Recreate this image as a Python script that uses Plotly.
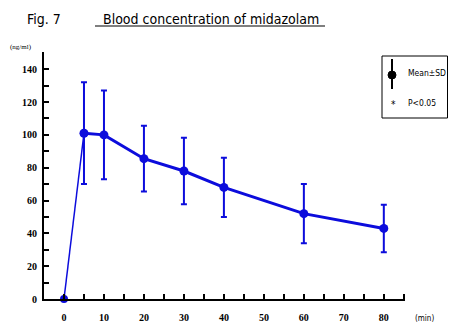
import plotly.graph_objects as go

# ---- data ----
time_min = [0, 5, 10, 20, 30, 40, 60, 80]
mean_conc = [0, 101, 100, 85.5, 78, 68, 52, 43]
sd_conc = [0, 31, 27, 20, 20.3, 18, 18, 14.5]
x_tick_vals = [0, 10, 20, 30, 40, 50, 60, 70, 80]
y_tick_vals = [0, 20, 40, 60, 80, 100, 120, 140]

BLUE = "#0c0cdc"
VW, VH = 457, 322          # browser viewport
OFF = 8                    # default body margin of the html page
W, H = VW - OFF, VH - OFF  # figure size so it fits in the viewport
# plot area in viewport pixels
PX0, PX1, PY0, PY1 = 44, 405, 52, 299
L, R = PX0 - OFF, W - (PX1 - OFF)
T, B = PY0 - OFF, H - (PY1 - OFF)
PW, PH = PX1 - PX0, PY1 - PY0


def px(x):
    return (x - PX0) / PW


def py(y):
    return (PY1 - y) / PH


COND = "Liberation Sans Narrow, DejaVu Sans Condensed, Arial Narrow, sans-serif"
SERIF = "Liberation Serif, Times New Roman, serif"

fig = go.Figure()
# first thin rising segment
fig.add_trace(go.Scatter(
    x=time_min[:2], y=mean_conc[:2], mode="lines+markers",
    line=dict(color=BLUE, width=1.5), marker=dict(color=BLUE, size=8),
    cliponaxis=False, showlegend=False, hoverinfo="skip"))
# main curve with SD error bars
fig.add_trace(go.Scatter(
    x=time_min[1:], y=mean_conc[1:], mode="lines+markers",
    line=dict(color=BLUE, width=3), marker=dict(color=BLUE, size=9),
    error_y=dict(type="data", array=sd_conc[1:], visible=True,
                 color=BLUE, thickness=2, width=3),
    cliponaxis=False, showlegend=False))

axis_common = dict(
    showline=True, linecolor="black", linewidth=2, showgrid=False,
    zeroline=False, ticks="inside", ticklen=5, tickwidth=1.5, tickcolor="black",
    automargin=False,
    tickfont=dict(family=SERIF, size=10, color="black", weight="bold"),
)
fig.update_xaxes(range=[-5, 85.3], tickvals=x_tick_vals,
                 minor=dict(dtick=5, tick0=0, ticks="inside", ticklen=5,
                            tickwidth=1.5, tickcolor="black"),
                 ticklabelstandoff=8, **axis_common)
fig.update_yaxes(range=[0, 150.5], tickvals=y_tick_vals,
                 minor=dict(dtick=10, tick0=0, ticks="inside", ticklen=5,
                            tickwidth=1.5, tickcolor="black"),
                 ticklabelstandoff=3, **axis_common)

shapes = [
    # title underline
    dict(type="line", xref="paper", yref="paper", x0=px(95), x1=px(325),
         y0=py(26), y1=py(26), line=dict(color="black", width=1.2)),
    # legend box
    dict(type="rect", xref="paper", yref="paper", x0=px(382), x1=px(447.5),
         y0=py(56), y1=py(118), line=dict(color="black", width=1),
         fillcolor="white"),
    # legend error-bar symbol
    dict(type="line", xref="paper", yref="paper", x0=px(392), x1=px(392),
         y0=py(59), y1=py(89), line=dict(color="black", width=2)),
    dict(type="circle", xref="paper", yref="paper", x0=px(388), x1=px(396),
         y0=py(71), y1=py(79), line=dict(color="black", width=1),
         fillcolor="black"),
]

annotations = [
    dict(text="Fig. 7", x=px(25), y=py(19), xref="paper", yref="paper",
         xanchor="left", yanchor="middle", showarrow=False,
         font=dict(family=COND, size=14, color="black")),
    dict(text="Blood concentration of midazolam", x=px(101), y=py(19),
         xref="paper", yref="paper", xanchor="left", yanchor="middle",
         showarrow=False, font=dict(family=COND, size=14, color="black")),
    dict(text="(ng/ml)", x=px(8), y=py(47), xref="paper", yref="paper",
         xanchor="left", yanchor="middle", showarrow=False,
         font=dict(family=SERIF, size=7, color="black")),
    dict(text="(min)", x=px(413), y=py(318), xref="paper", yref="paper",
         xanchor="left", yanchor="middle", showarrow=False,
         font=dict(family=COND, size=8, color="black")),
    dict(text="Mean±SD", x=px(406), y=py(73), xref="paper", yref="paper",
         xanchor="left", yanchor="middle", showarrow=False,
         font=dict(family=COND, size=8.5, color="black")),
    dict(text="*", x=px(393), y=py(104), xref="paper", yref="paper",
         xanchor="center", yanchor="middle", showarrow=False,
         font=dict(family=COND, size=10, color="black")),
    dict(text="P<0.05", x=px(406), y=py(103), xref="paper", yref="paper",
         xanchor="left", yanchor="middle", showarrow=False,
         font=dict(family=COND, size=8.5, color="black")),
]

fig.update_layout(
    width=W, height=H, margin=dict(l=L, r=R, t=T, b=B),
    paper_bgcolor="white", plot_bgcolor="white",
    shapes=shapes, annotations=annotations,
)

fig.write_html("out.html")
